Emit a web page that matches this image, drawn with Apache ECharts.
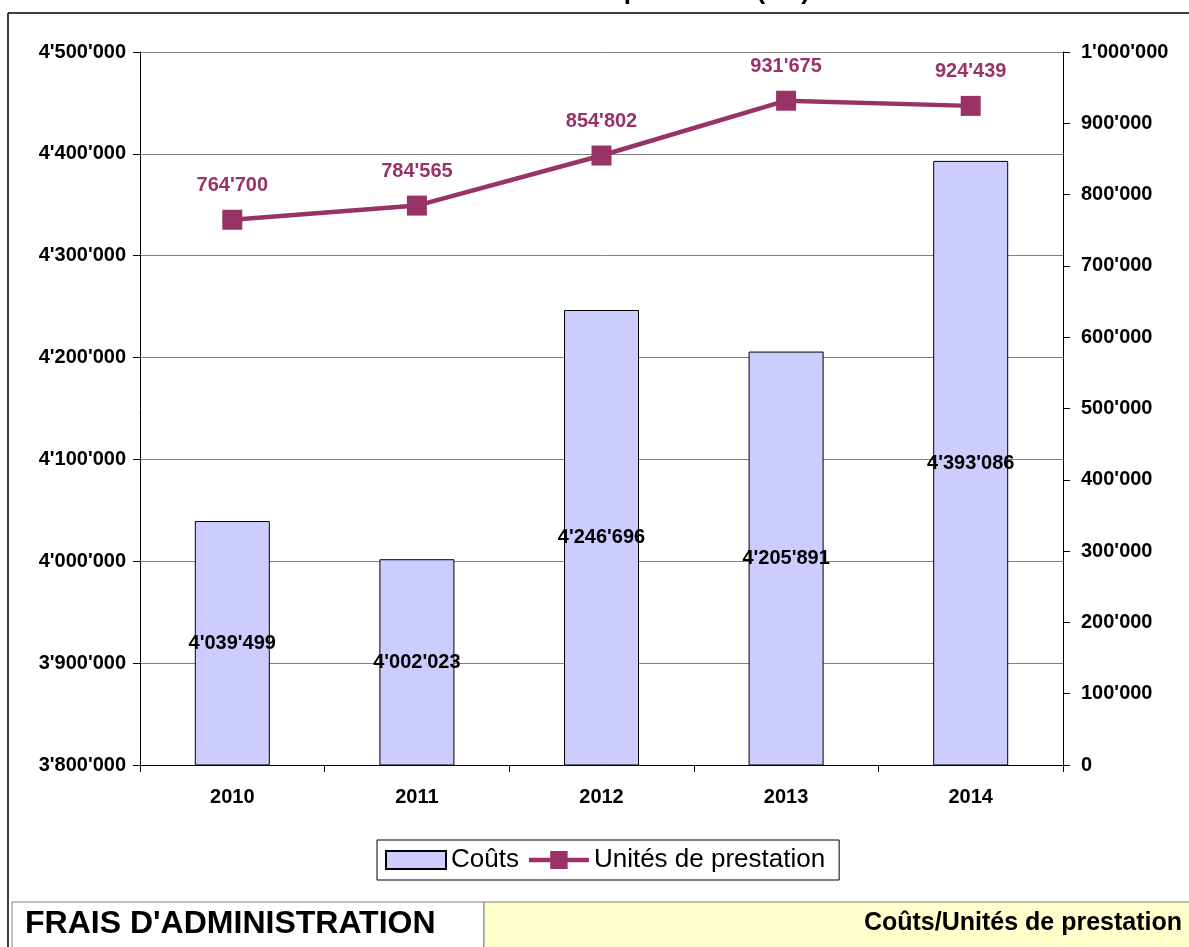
<!DOCTYPE html>
<html>
<head>
<meta charset="utf-8">
<script src="https://cdn.jsdelivr.net/npm/echarts@6/dist/echarts.min.js"></script>
<style>
    html, body { margin: 0; padding: 0; background: #fff; }
    #chart { width: 1189px; height: 947px; }
</style>
</head>
<body>
<div id="chart"></div>
<script>
var years = ['2010', '2011', '2012', '2013', '2014'];
var couts = [4039499, 4002023, 4246696, 4205891, 4393086];
var unites = [764700, 784565, 854802, 931675, 924439];

var FONT = '"Liberation Sans", Arial, sans-serif';

function fmt(v) {
    return String(v).replace(/\B(?=(\d{3})+(?!\d))/g, "'");
}

var chart = echarts.init(document.getElementById('chart'));

var option = {
    animation: false,
    textStyle: {fontFamily: FONT},
    grid: {left: 140, right: 126, top: 52, bottom: 182},
    legend: {
        left: 377,
        top: 840,
        padding: [7, 14, 7, 8],
        itemGap: 10,
        itemWidth: 60,
        itemHeight: 18,
        symbolKeepAspect: false,
        borderColor: '#000',
        borderWidth: 1,
        backgroundColor: '#fff',
        textStyle: {fontFamily: FONT, fontSize: 26, color: '#000'},
        data: [
            {name: 'Coûts', icon: 'rect'},
            {name: 'Unités de prestation',
             icon: 'path://M0,7.5L22,7.5L22,0L40,0L40,7.5L62,7.5L62,12.5L40,12.5L40,20L22,20L22,12.5L0,12.5Z'}
        ]
    },
    xAxis: {
        type: 'category',
        data: years,
        axisLine: {lineStyle: {color: '#000', width: 1}},
        axisTick: {show: true, length: 7, lineStyle: {color: '#000'}},
        axisLabel: {color: '#000', fontWeight: 'bold', fontSize: 20, margin: 22, fontFamily: FONT}
    },
    yAxis: [
        {
            type: 'value',
            min: 3800000,
            max: 4500000,
            interval: 100000,
            axisLine: {show: true, lineStyle: {color: '#000'}},
            axisTick: {show: true, length: 7, lineStyle: {color: '#000'}},
            axisLabel: {color: '#000', fontWeight: 'bold', fontSize: 20, margin: 14, fontFamily: FONT, formatter: fmt},
            splitLine: {lineStyle: {color: '#808080', width: 1}}
        },
        {
            type: 'value',
            min: 0,
            max: 1000000,
            interval: 100000,
            axisLine: {show: true, lineStyle: {color: '#000'}},
            axisTick: {show: true, length: 7, lineStyle: {color: '#000'}},
            axisLabel: {color: '#000', fontWeight: 'bold', fontSize: 20, margin: 18, fontFamily: FONT, formatter: fmt},
            splitLine: {show: false}
        }
    ],
    series: [
        {
            name: 'Coûts',
            type: 'bar',
            yAxisIndex: 0,
            barWidth: 75,
            data: couts,
            itemStyle: {color: '#CCCCFF', borderColor: '#000', borderWidth: 1},
            label: {
                show: true,
                position: 'inside',
                color: '#000',
                fontWeight: 'bold',
                fontSize: 20,
                fontFamily: FONT,
                formatter: function (p) { return fmt(p.value); }
            }
        },
        {
            name: 'Unités de prestation',
            type: 'line',
            yAxisIndex: 1,
            data: unites,
            symbol: 'rect',
            symbolSize: 20,
            lineStyle: {color: '#993366', width: 4.5},
            itemStyle: {color: '#993366'},
            label: {
                show: true,
                position: 'top',
                distance: 14,
                color: '#993366',
                fontWeight: 'bold',
                fontSize: 20,
                fontFamily: FONT,
                formatter: function (p) { return fmt(p.value); }
            }
        }
    ],
    graphic: [
        // title, mostly cut off above the picture
        {
            type: 'text', x: 810, y: 5,
            style: {text: 'Coûts et unités de prestation (UP)', fill: '#000', font: 'bold 26px ' + FONT, textAlign: 'right', textVerticalAlign: 'bottom'}
        },
        // outer frame
        {type: 'line', shape: {x1: 8, y1: 13, x2: 1189, y2: 13}, style: {stroke: '#000', lineWidth: 1.5}},
        {type: 'line', shape: {x1: 8, y1: 13, x2: 8, y2: 947}, style: {stroke: '#000', lineWidth: 1.5}},
        // bottom table
        {type: 'rect', shape: {x: 12, y: 902, width: 472, height: 60}, style: {fill: '#fff', stroke: '#808080', lineWidth: 1}},
        {type: 'rect', shape: {x: 484, y: 902, width: 720, height: 60}, style: {fill: '#FFFFCC', stroke: '#808080', lineWidth: 1}},
        {
            type: 'text', x: 25, y: 924,
            style: {text: "FRAIS D'ADMINISTRATION", fill: '#000', font: 'bold 32px ' + FONT, textVerticalAlign: 'middle'}
        },
        {
            type: 'text', x: 1182, y: 923,
            style: {text: 'Coûts/Unités de prestation', fill: '#000', font: 'bold 25px ' + FONT, textAlign: 'right', textVerticalAlign: 'middle'}
        }
    ]
};

chart.setOption(option);
</script>
</body>
</html>
